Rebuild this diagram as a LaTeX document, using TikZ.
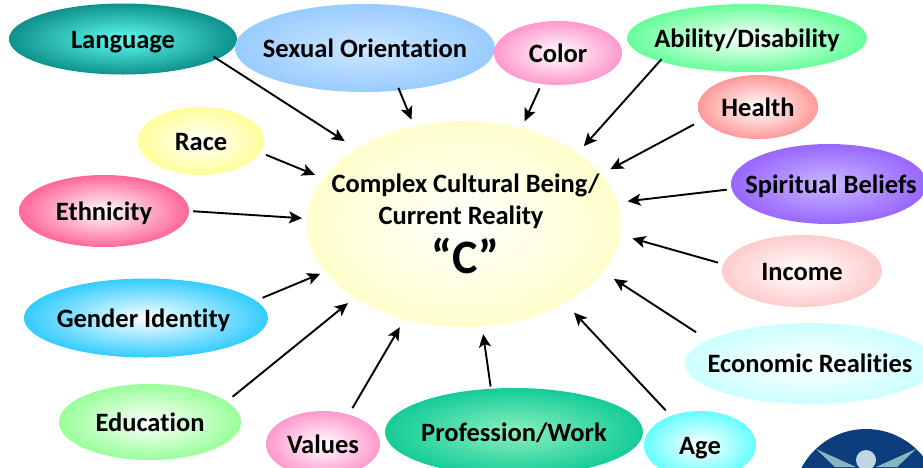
\documentclass[tikz,border=0pt]{standalone}
\usepackage{fontspec}
\setmainfont{Carlito}[BoldFont={Carlito Bold},Ligatures=NoCommon]
\usetikzlibrary{arrows.meta,shapes.geometric}
\definecolor{logoblue}{RGB}{12,62,125}
\definecolor{logohead}{RGB}{190,215,225}
\definecolor{logoarm}{RGB}{135,182,192}
\newcommand\btext[1]{\raisebox{-0.345em}[0pt][0pt]{\makebox[0pt]{#1}}}
\tikzset{
  x=1pt,y=-1pt,
  bubble/.style args={#1/#2/#3/#4}{ellipse,minimum width=#1pt,minimum height=#2pt,inner sep=0pt,
     inner color=#3,outer color=#4,font=\bfseries\fontsize{26.5}{30}\selectfont,text=black},
  link/.style={draw=black,line width=1.9pt,-{Stealth[length=13pt,width=12pt,inset=3pt]}}
}
\definecolor{cA}{RGB}{95,252,242}\definecolor{oA}{RGB}{14,145,140}
\definecolor{cB}{RGB}{205,230,255}\definecolor{oB}{RGB}{153,204,255}
\definecolor{cD}{RGB}{255,255,255}\definecolor{oD}{RGB}{255,153,204}
\definecolor{oE}{RGB}{102,255,153}
\definecolor{oF}{RGB}{255,153,153}
\definecolor{cG}{RGB}{200,185,255}\definecolor{oG}{RGB}{153,102,255}
\definecolor{oH}{RGB}{255,204,204}
\definecolor{oI}{RGB}{204,255,255}
\definecolor{oJ}{RGB}{102,255,255}
\definecolor{cK}{RGB}{140,240,190}\definecolor{oK}{RGB}{20,204,153}
\definecolor{oL}{RGB}{153,255,153}
\definecolor{oM}{RGB}{51,204,255}
\definecolor{oN}{RGB}{255,102,153}
\definecolor{oO}{RGB}{255,255,153}
\definecolor{oC}{RGB}{255,255,204}
\begin{document}
\begin{tikzpicture}
\useasboundingbox (0,0) rectangle (923,467);
\clip (0,0) rectangle (923,467);
% logo
\fill[logoblue] (866,502) circle[radius=73];
\fill[logoarm] (816,449) -- (856,467) -- (835,467) -- cycle;
\fill[logoarm] (916,449) -- (876,467) -- (897,467) -- cycle;
\fill[logohead] (866,460) circle[radius=10];
% centre
\node[bubble={314/206/white/oC}] (core) at (464,224)
  {\raisebox{-9pt}[0pt][0pt]{\makebox[0pt]{\hspace*{3pt}\begin{tabular}{@{}c@{}}Complex Cultural Being/\\[2.5pt]Current Reality\hspace*{9pt}\\[4pt]{\fontsize{48}{50}\selectfont “C”}\end{tabular}}}};
% surrounding bubbles
\node[bubble={228/71/cA/oA}]    (lang)   at (123,39)    {\btext{Language}};
\node[bubble={260/88/cB/oB}]    (sexual) at (365,48)    {\btext{Sexual Orientation}};
\node[bubble={128/64/cD/oD}]    (color)  at (558,53)    {\btext{Color}};
\node[bubble={240/68/white/oE}] (abil)   at (747,38)    {\btext{Ability/Disability}};
\node[bubble={120/64/white/oF}] (health) at (758,107)   {\btext{Health}};
\node[bubble={196/80/cG/oG}]    (spirit) at (829,184)   {\btext{\hspace*{4pt}Spiritual Beliefs}};
\node[bubble={160/72/white/oH}] (income) at (802,271)   {\btext{Income}};
\node[bubble={250/81/white/oI}] (econ)   at (810,363.5) {\btext{Economic Realities}};
\node[bubble={112/68/white/oJ}] (age)    at (700,445)   {\btext{Age}};
\node[bubble={258/88/cK/oK}]    (prof)   at (514,432)   {\btext{Profession/Work}};
\node[bubble={114/66/white/oD}] (values) at (323,444)   {\btext{Values}};
\node[bubble={182/76/white/oL}] (edu)    at (150,422)   {\btext{Education}};
\node[bubble={244/79/white/oM}] (gender) at (146,318)   {\btext{\hspace*{-5pt}Gender Identity}};
\node[bubble={170/72/white/oN}] (ethn)   at (104,211)   {\btext{Ethnicity}};
\node[bubble={126/68/white/oO}] (race)   at (201,141)   {\btext{Race}};
% connectors
\draw[link,shorten <=-4.5pt,shorten >=14pt]  (lang.-12.8)   -- (core.145.4);
\draw[link,shorten <=-3pt,shorten >=7pt]     (sexual.-51.3) -- (core.117.2);
\draw[link,shorten <=4.7pt,shorten >=7.4pt](color.-118.5) -- (core.59.9);
\draw[link,shorten <=-3pt,shorten >=9pt]     (abil.-165.7)  -- (core.32.9);
\draw[link,shorten <=10pt,shorten >=10pt]  (health.-167)  -- (core.20);
\draw[link,shorten <=4.8pt,shorten >=10pt] (spirit.-177.2)-- (core.8.5);
\draw[link,shorten <=5.4pt,shorten >=12.6pt](income.175.2)-- (core.-4.2);
\draw[link,shorten <=14.2pt,shorten >=12.8pt](econ.167.1) -- (core.-19.9);
\draw[link,shorten <=7.4pt,shorten >=13pt] (age.135.8)    -- (core.-38.5);
\draw[link,shorten <=2pt,shorten >=7.7pt]  (prof.118.1)   -- (core.-80);
\draw[link,shorten <=7.2pt,shorten >=9pt]  (values.49.4)  -- (core.-122.5);
\draw[link,shorten <=7.4pt,shorten >=8.3pt](edu.15.5)     -- (core.-146.1);
\draw[link,shorten <=7.3pt,shorten >=5pt]  (gender.9.3)   -- (core.-161.9);
\draw[link,shorten <=4pt,shorten >=5pt]    (ethn.-0.6)    -- (core.178.3);
\draw[link,shorten <=6pt,shorten >=8.8pt]  (race.-11.3)   -- (core.162.7);
\end{tikzpicture}
\end{document}
